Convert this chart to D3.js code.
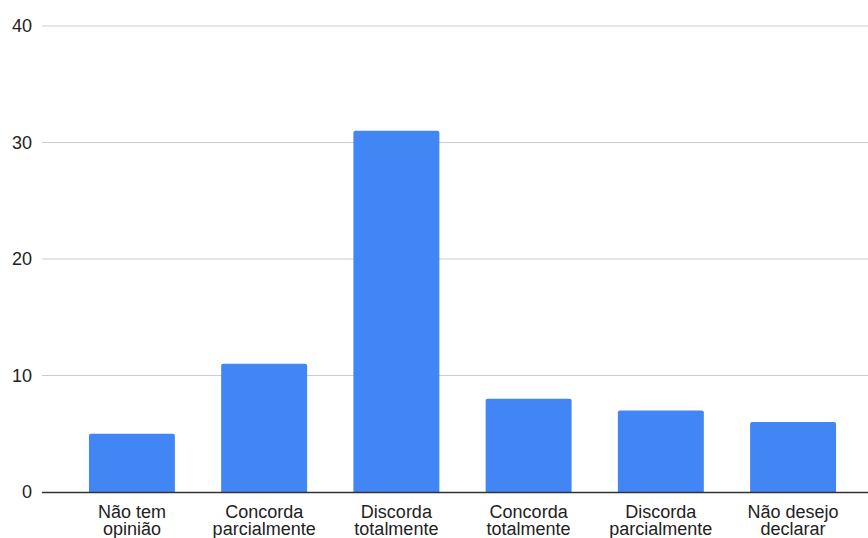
<!DOCTYPE html>
<html>
<head>
<meta charset="utf-8">
<script src="https://cdn.jsdelivr.net/npm/d3@7"></script>
<style>
  body { margin: 0; background: #fff; }
  svg { display: block; font-family: "Liberation Sans", Arial, sans-serif; }
</style>
</head>
<body>
<svg id="chart" width="868" height="538"></svg>
<script>
"use strict"

const categories = [
    ["Não tem", "opinião"],
    ["Concorda", "parcialmente"],
    ["Discorda", "totalmente"],
    ["Concorda", "totalmente"],
    ["Discorda", "parcialmente"],
    ["Não desejo", "declarar"]
]
const values = [5, 11, 31, 8, 7, 6]
const yTicks = [0, 10, 20, 30, 40]

const svg = d3.select("#chart"),
    chartW = 868,
    plotLeft = 42,
    plotTop = 26,
    plotBottom = 492

let keys = categories.map(c => c.join(" "))

let x = d3.scaleBand()
    .domain(keys)
    .range([plotLeft, 883])
    .paddingInner(0.35)
    .paddingOuter(0.355)

let y = d3.scaleLinear()
    .domain([0, 40])
    .range([plotBottom, plotTop])

// gridlines + y labels
let grid = svg.append("g")
grid.selectAll("line")
    .data(yTicks.filter(d => d > 0))
    .enter().append("line")
    .attr("x1", plotLeft).attr("x2", chartW)
    .attr("y1", d => y(d)).attr("y2", d => y(d))
    .attr("stroke", "#cccccc")
    .attr("stroke-width", 1)

grid.selectAll("text")
    .data(yTicks)
    .enter().append("text")
    .attr("x", 32)
    .attr("y", d => y(d))
    .attr("dy", "0.36em")
    .attr("text-anchor", "end")
    .attr("font-size", 18)
    .attr("fill", "#222")
    .text(d => d)

// bars, small rounded top corners
const r = 2
svg.append("g").selectAll("path")
    .data(values)
    .enter().append("path")
    .attr("fill", "#4285f4")
    .attr("d", (d, i) => {
        let x0 = x(keys[i]), w = x.bandwidth(), y0 = y(d), yb = y(0)
        return `M${x0},${yb}V${y0 + r}Q${x0},${y0} ${x0 + r},${y0}H${x0 + w - r}Q${x0 + w},${y0} ${x0 + w},${y0 + r}V${yb}Z`
    })

// baseline
svg.append("line")
    .attr("x1", plotLeft).attr("x2", chartW)
    .attr("y1", y(0) + 0.5).attr("y2", y(0) + 0.5)
    .attr("stroke", "#333")
    .attr("stroke-width", 1.3)

// category labels (two lines each)
let lab = svg.append("g").selectAll("text")
    .data(categories)
    .enter().append("text")
    .attr("text-anchor", "middle")
    .attr("font-size", 18)
    .attr("fill", "#222")
    .attr("transform", (d, i) => "translate(" + (x(keys[i]) + x.bandwidth() / 2) + ",517.5)")

lab.selectAll("tspan")
    .data(d => d)
    .enter().append("tspan")
    .attr("x", 0)
    .attr("y", (d, i) => i * 17.7)
    .text(d => d)
</script>
</body>
</html>
